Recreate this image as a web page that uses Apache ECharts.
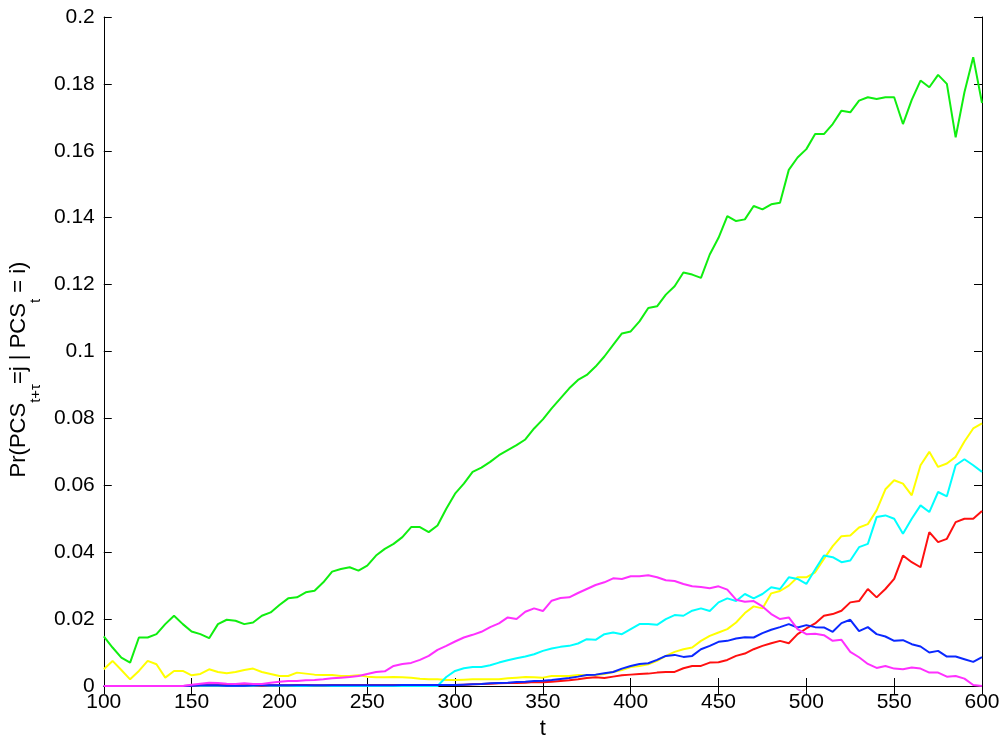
<!DOCTYPE html>
<html>
<head>
<meta charset="utf-8">
<script src="https://cdn.jsdelivr.net/npm/echarts@6/dist/echarts.min.js"></script>
<style>
  html, body { margin: 0; padding: 0; background: #fff; }
  #chart { width: 1003px; height: 745px; }
</style>
</head>
<body>
<div id="chart"></div>
<script>
// t runs 100..600, one sample every 5 steps
const tStart = 100;
const tStep = 5;

const green = [
  0.0148, 0.0115, 0.0085, 0.007, 0.0145, 0.0145, 0.0155, 0.0185, 0.021, 0.0185,
  0.0163, 0.0155, 0.0143, 0.0185, 0.0198, 0.0195, 0.0185, 0.019, 0.021, 0.022,
  0.0242, 0.0262, 0.0265, 0.028, 0.0285, 0.031, 0.0342, 0.035, 0.0355, 0.0345,
  0.036, 0.039, 0.041, 0.0425, 0.0445, 0.0475, 0.0475, 0.046, 0.048, 0.053,
  0.0575, 0.0605, 0.064, 0.0653, 0.067, 0.069, 0.0705, 0.072, 0.0737, 0.077,
  0.0797, 0.083, 0.086, 0.089, 0.0915, 0.093, 0.0955, 0.0985, 0.102, 0.1054,
  0.106, 0.109, 0.113, 0.1135, 0.117, 0.1195, 0.1236, 0.123, 0.122, 0.129,
  0.134, 0.1405, 0.139, 0.1395, 0.1435, 0.1425, 0.144, 0.1445, 0.1543, 0.158,
  0.1605, 0.165, 0.165, 0.168, 0.172, 0.1715, 0.175, 0.176, 0.1755, 0.176,
  0.176, 0.168, 0.1752, 0.181, 0.179, 0.1827, 0.18, 0.164, 0.1775, 0.188,
  0.1743
];

const yellow = [
  0.005, 0.0075, 0.0048, 0.002, 0.0045, 0.0075, 0.0065, 0.0025, 0.0045, 0.0045,
  0.0032, 0.0036, 0.005, 0.0042, 0.0038, 0.0042, 0.0048, 0.0052, 0.0042, 0.0036,
  0.003, 0.003, 0.004, 0.0037, 0.0034, 0.0033, 0.0033, 0.003, 0.003, 0.0032,
  0.0028, 0.0026, 0.0026, 0.0027, 0.0026, 0.0025, 0.0022, 0.002, 0.002, 0.0018,
  0.0018, 0.0019, 0.002, 0.002, 0.002, 0.002, 0.0023, 0.0025, 0.0027, 0.0026,
  0.0025, 0.003, 0.003, 0.003, 0.0033, 0.0032, 0.0033, 0.0036, 0.0042, 0.0048,
  0.0057, 0.006, 0.0065, 0.0075, 0.009, 0.0102, 0.011, 0.0115, 0.0135, 0.015,
  0.016, 0.017, 0.019, 0.0218, 0.0238, 0.0232, 0.0277, 0.0284, 0.03, 0.0325,
  0.0325, 0.034, 0.038, 0.0418, 0.0448, 0.045, 0.0474, 0.0484, 0.0525, 0.0588,
  0.0615, 0.0605, 0.057, 0.066, 0.07, 0.0655, 0.0665, 0.0685, 0.0731, 0.077,
  0.0785
];

const cyan = [
  0, 0, 0, 0, 0, 0, 0, 0, 0, 0,
  0, 0, 0, 0, 0, 0, 0, 0, 0, 0,
  0, 0, 0, 0, 0, 0, 0, 0, 0, 0,
  0, 0, 0, 0, 0, 0, 0, 0, 0, 0.0027,
  0.0045, 0.0053, 0.0057, 0.0057, 0.0062, 0.007, 0.0077, 0.0083, 0.0088, 0.0095,
  0.0105, 0.0112, 0.0117, 0.012, 0.0127, 0.014, 0.0138, 0.0155, 0.016, 0.0155,
  0.017, 0.0185, 0.0185, 0.0183, 0.02, 0.0212, 0.021, 0.0225, 0.0232, 0.0224,
  0.025, 0.0262, 0.0254, 0.0275, 0.0262, 0.0275, 0.0295, 0.029, 0.0325, 0.032,
  0.0305, 0.0348, 0.039, 0.0385, 0.037, 0.0375, 0.0415, 0.0425, 0.0505, 0.051,
  0.05, 0.0455, 0.05, 0.054, 0.052, 0.058, 0.0567, 0.066, 0.0678, 0.066,
  0.064
];

const red = [
  0, 0, 0, 0, 0, 0, 0, 0, 0, 0,
  0.0001, 0.0002, 0.0002, 0.0002, 0.0003, 0.0002, 0.0002, 0.0002, 0.0001, 0.0002,
  0.0002, 0.0002, 0.0003, 0.0003, 0.0002, 0.0002, 0.0003, 0.0003, 0.0003, 0.0003,
  0.0003, 0.0003, 0.0003, 0.0003, 0.0003, 0.0003, 0.0003, 0.0003, 0.0003, 0.0003,
  0.0003, 0.0004, 0.0005, 0.0006, 0.0007, 0.0008, 0.0009, 0.0009, 0.001, 0.0012,
  0.0011, 0.0013, 0.0015, 0.0017, 0.002, 0.0024, 0.0026, 0.0024, 0.0028, 0.0032,
  0.0034, 0.0036, 0.0037, 0.004, 0.0042, 0.0042, 0.0053, 0.006, 0.006, 0.007,
  0.0071, 0.0078, 0.009, 0.0097, 0.011, 0.012, 0.0128, 0.0135, 0.0128, 0.0155,
  0.0172, 0.0187, 0.021, 0.0215, 0.0225, 0.025, 0.0254, 0.029, 0.0265, 0.029,
  0.032, 0.039, 0.037, 0.0355, 0.046, 0.043, 0.044, 0.049, 0.05, 0.05,
  0.0523
];

const blue = [
  0, 0, 0, 0, 0, 0, 0, 0, 0, 0,
  0.0001, 0.0002, 0.0002, 0.0002, 0.0001, 0.0001, 0.0001, 0.0002, 0.0002, 0.0002,
  0.0002, 0.0002, 0.0002, 0.0002, 0.0002, 0.0002, 0.0002, 0.0002, 0.0002, 0.0002,
  0.0002, 0.0002, 0.0002, 0.0002, 0.0003, 0.0003, 0.0003, 0.0003, 0.0003, 0.0003,
  0.0003, 0.0004, 0.0005, 0.0006, 0.0008, 0.0009, 0.001, 0.0012, 0.0013, 0.0015,
  0.0016, 0.0018, 0.0021, 0.0024, 0.0028, 0.0033, 0.0034, 0.0038, 0.0042, 0.0052,
  0.006, 0.0066, 0.0068, 0.0078, 0.009, 0.0093, 0.0087, 0.009, 0.011, 0.012,
  0.0132, 0.0135, 0.0142, 0.0146, 0.0145, 0.0158, 0.0168, 0.0176, 0.0185, 0.0175,
  0.0182, 0.0176, 0.0175, 0.0162, 0.0188, 0.0198, 0.0164, 0.0176, 0.0155, 0.0148,
  0.0135, 0.0137, 0.0125, 0.0118, 0.01, 0.0105, 0.0088, 0.0088, 0.008, 0.0072,
  0.0086
];

const magenta = [
  0, 0, 0, 0, 0, 0, 0, 0, 0, 0,
  0.0004, 0.0007, 0.001, 0.0009, 0.0007, 0.0006, 0.0008, 0.0006, 0.0006, 0.001,
  0.0013, 0.0015, 0.0015, 0.0017, 0.0018, 0.002, 0.0023, 0.0025, 0.0027, 0.003,
  0.0036, 0.0042, 0.0044, 0.006, 0.0066, 0.0069, 0.0078, 0.009, 0.0108, 0.012,
  0.0133, 0.0145, 0.0153, 0.0162, 0.0176, 0.0187, 0.0205, 0.02, 0.0222, 0.0232,
  0.0224, 0.0255, 0.0263, 0.0265, 0.0278, 0.029, 0.0302, 0.031, 0.0322, 0.032,
  0.0328, 0.0328, 0.0331, 0.0325, 0.0316, 0.0314, 0.0305, 0.0298, 0.0296, 0.0292,
  0.0298, 0.0288, 0.0258, 0.0252, 0.0254, 0.0238, 0.0215, 0.02, 0.0205, 0.017,
  0.0155, 0.0156, 0.0152, 0.0135, 0.0138, 0.0102, 0.0086, 0.0066, 0.0054, 0.006,
  0.0052, 0.005, 0.0055, 0.0052, 0.004, 0.004, 0.0028, 0.003, 0.0022, 0.0003,
  0
];

const tValues = green.map((_, i) => tStart + i * tStep);

const font = "'Liberation Sans', Arial, Helvetica, sans-serif";

const pairs = (vals) => vals.map((v, i) => [tValues[i], v]);

const lineSeries = (name, vals, color) => ({
  name,
  type: "line",
  data: pairs(vals),
  showSymbol: false,
  symbol: "none",
  lineStyle: { width: 2, color },
  itemStyle: { color },
  animation: false,
});

const chart = echarts.init(document.getElementById("chart"));

const tickCommon = {
  inside: true,
  length: 8,
  lineStyle: { color: "#000", width: 1 },
};

const option = {
  backgroundColor: "#fff",
  animation: false,
  grid: { left: 92, right: 21, top: 17, bottom: 58, containLabel: false },
  xAxis: [
    {
      type: "value",
      min: 100,
      max: 600,
      interval: 50,
      name: "t",
      nameLocation: "middle",
      nameGap: 32,
      nameTextStyle: { fontFamily: font, fontSize: 22, color: "#000" },
      axisLine: { show: true, lineStyle: { color: "#000", width: 1 } },
      axisTick: tickCommon,
      axisLabel: { fontFamily: font, fontSize: 21, color: "#000", margin: 6 },
      splitLine: { show: false },
    },
    {
      type: "value",
      position: "top",
      min: 100,
      max: 600,
      interval: 50,
      axisLine: { show: true, lineStyle: { color: "#000", width: 1 } },
      axisTick: tickCommon,
      axisLabel: { show: false },
      splitLine: { show: false },
    },
  ],
  yAxis: [
    {
      type: "value",
      min: 0,
      max: 0.2,
      interval: 0.02,
      name: "{n|Pr(PCS}{s|t+τ}{n|=j | PCS}{s|t}{n| = i)}{sp| }",
      nameLocation: "middle",
      nameRotate: 90,
      nameGap: 54,
      nameTextStyle: {
        fontFamily: font,
        color: "#000",
        rich: {
          n: { fontFamily: font, fontSize: 22, color: "#000", lineHeight: 35, verticalAlign: "top" },
          s: { fontFamily: font, fontSize: 15, color: "#000", lineHeight: 35, verticalAlign: "bottom" },
          sp: { fontSize: 10, width: 36, lineHeight: 35 },
        },
      },
      axisLine: { show: true, lineStyle: { color: "#000", width: 1 } },
      axisTick: tickCommon,
      axisLabel: {
        fontFamily: font,
        fontSize: 21,
        color: "#000",
        margin: 9,
        formatter: (v) => String(Math.round(v * 100) / 100),
      },
      splitLine: { show: false },
    },
    {
      type: "value",
      position: "right",
      min: 0,
      max: 0.2,
      interval: 0.02,
      axisLine: { show: true, lineStyle: { color: "#000", width: 1 } },
      axisTick: tickCommon,
      axisLabel: { show: false },
      splitLine: { show: false },
    },
  ],
  series: [
    lineSeries("green", green, "#10ee10"),
    lineSeries("yellow", yellow, "#ffff00"),
    lineSeries("cyan", cyan, "#00ffff"),
    lineSeries("red", red, "#ff1010"),
    lineSeries("blue", blue, "#0a28ff"),
    lineSeries("magenta", magenta, "#ff30ff"),
  ],
};

chart.setOption(option);
</script>
</body>
</html>
